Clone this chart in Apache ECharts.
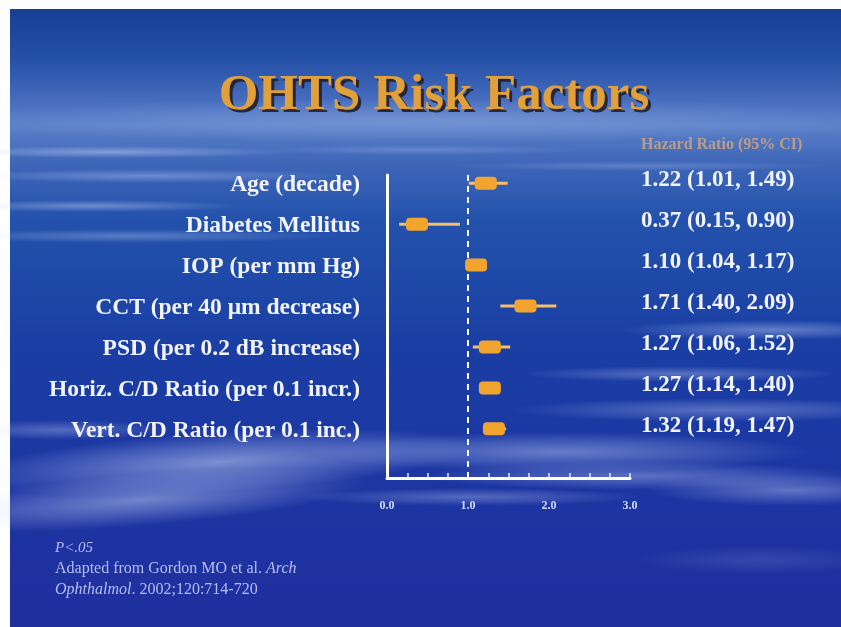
<!DOCTYPE html>
<html>
<head>
<meta charset="utf-8">
<title>OHTS Risk Factors</title>
<script src="https://cdn.jsdelivr.net/npm/echarts@6/dist/echarts.min.js"></script>
<style>
  html, body { margin: 0; padding: 0; background: #ffffff; }
  #chart { width: 841px; height: 627px; }
</style>
</head>
<body>
<div id="chart"></div>
<script>
// Risk factors (rows, top to bottom) with hazard ratios and 95% CI bounds
const factors = [
  'Age (decade)',
  'Diabetes Mellitus',
  'IOP (per mm Hg)',
  'CCT (per 40 \u03bcm decrease)',
  'PSD (per 0.2 dB increase)',
  'Horiz. C/D Ratio (per 0.1 incr.)',
  'Vert. C/D Ratio (per 0.1 inc.)'
];
const hazardRatio = [1.22, 0.37, 1.10, 1.71, 1.27, 1.27, 1.32];
const ciLower     = [1.01, 0.15, 1.04, 1.40, 1.06, 1.14, 1.19];
const ciUpper     = [1.49, 0.90, 1.17, 2.09, 1.52, 1.40, 1.47];
const xTickLabels = ['0.0', '1.0', '2.0', '3.0'];

const SERIF = '"Liberation Serif", "Times New Roman", serif';

const rows = factors.map((name, i) => [hazardRatio[i], ciLower[i], ciUpper[i], i]);

function fmt(v) { return v.toFixed(2); }

const chart = echarts.init(document.getElementById('chart'), null, { renderer: 'canvas' });

// soft elongated cloud wisp: a radial-gradient disc squashed vertically
function wisp(cx, cy, rx, ry, a, rot) {
  return {
    type: 'circle',
    silent: true,
    z: -9,
    x: cx, y: cy,
    scaleY: ry / rx,
    rotation: rot || 0,
    shape: { cx: 0, cy: 0, r: rx },
    style: {
      fill: {
        type: 'radial', x: 0.5, y: 0.5, r: 0.5,
        colorStops: [
          { offset: 0, color: 'rgba(220,230,255,' + a + ')' },
          { offset: 0.5, color: 'rgba(205,218,255,' + (a * 0.55) + ')' },
          { offset: 1, color: 'rgba(200,215,255,0)' }
        ]
      }
    }
  };
}

const background = [
  {
    type: 'rect', silent: true, z: -10,
    shape: { x: 10, y: 9, width: 831, height: 618 },
    style: {
      fill: {
        type: 'linear', x: 0, y: 0, x2: 0, y2: 1,
        colorStops: [
          { offset: 0.00, color: '#163f95' },
          { offset: 0.08, color: '#2450a6' },
          { offset: 0.14, color: '#4269bb' },
          { offset: 0.19, color: '#5a7fc8' },
          { offset: 0.25, color: '#3e66b8' },
          { offset: 0.34, color: '#2352ac' },
          { offset: 0.55, color: '#1a3ea4' },
          { offset: 0.75, color: '#1c36a2' },
          { offset: 1.00, color: '#1f2f9e' }
        ]
      }
    }
  },
  // title band glow
  wisp(430, 120, 520, 22, 0.22),
  // upper-left wisps
  wisp(110, 152, 180, 6, 0.4),
  wisp(150, 176, 200, 7, 0.32),
  wisp(90, 206, 150, 6, 0.38),
  wisp(130, 236, 210, 7, 0.3),
  wisp(640, 166, 190, 5, 0.22),
  wisp(420, 150, 160, 5, 0.2),
  // right side wisps
  wisp(770, 330, 150, 10, 0.38),
  wisp(680, 374, 160, 8, 0.32),
  wisp(720, 410, 210, 12, 0.32),
  // lower cloud band
  wisp(220, 462, 260, 30, 0.5, 0.06),
  wisp(140, 500, 230, 26, 0.45, 0.08),
  wisp(60, 430, 110, 10, 0.3),
  wisp(560, 452, 250, 20, 0.4),
  wisp(640, 476, 220, 14, 0.34),
  wisp(790, 490, 140, 16, 0.36),
  wisp(470, 497, 170, 9, 0.3),
  wisp(760, 560, 130, 14, 0.12)
];

const titleText = 'OHTS Risk Factors';
const INK = '#b6bdf0';
const texts = [
  {
    type: 'text', silent: true, z: 5,
    x: 437, y: 99,
    style: {
      text: titleText, font: 'bold 51px ' + SERIF,
      fill: '#241f28', align: 'center', verticalAlign: 'middle', opacity: 0.9
    }
  },
  {
    type: 'text', silent: true, z: 6,
    x: 434, y: 96,
    style: {
      text: titleText, font: 'bold 51px ' + SERIF,
      align: 'center', verticalAlign: 'middle', fill: '#e2a03a'
    }
  },
  {
    type: 'text', silent: true, z: 6,
    x: 641, y: 145,
    style: {
      text: 'Hazard Ratio (95% CI)', font: 'bold 16px ' + SERIF,
      fill: '#cfa47a', align: 'left', verticalAlign: 'middle', opacity: 0.85
    }
  },
  {
    type: 'text', silent: true, z: 6,
    x: 55, y: 548,
    style: {
      text: 'P<.05', font: 'italic 15px ' + SERIF,
      fill: INK, align: 'left', verticalAlign: 'middle'
    }
  },
  {
    type: 'text', silent: true, z: 6,
    x: 55, y: 569,
    style: {
      text: 'Adapted from Gordon MO et al. {i|Arch}',
      font: '16px ' + SERIF,
      fill: INK, align: 'left', verticalAlign: 'middle',
      rich: { i: { font: 'italic 16px ' + SERIF, fill: INK } }
    }
  },
  {
    type: 'text', silent: true, z: 6,
    x: 55, y: 590,
    style: {
      text: '{i|Ophthalmol}. 2002;120:714-720',
      font: '16px ' + SERIF,
      fill: INK, align: 'left', verticalAlign: 'middle',
      rich: { i: { font: 'italic 16px ' + SERIF, fill: INK } }
    }
  }
];

function renderRow(params, api) {
  const est = api.value(0), lo = api.value(1), hi = api.value(2), row = api.value(3);
  const pEst = api.coord([est, row]);
  const pLo = api.coord([lo, row]);
  const pHi = api.coord([hi, row]);
  const xLeft = api.coord([0, row])[0];
  const xRight = api.coord([3, row])[0];
  const i = params.dataIndex;
  return {
    type: 'group',
    children: [
      {
        type: 'line',
        shape: { x1: pLo[0], y1: pLo[1], x2: pHi[0], y2: pHi[1] },
        style: { stroke: '#f6bd6a', lineWidth: 3 }
      },
      {
        type: 'rect',
        shape: { x: pEst[0] - 11, y: pEst[1] - 6.5, width: 22, height: 13, r: 4 },
        style: { fill: '#f2a52e' }
      },
      {
        type: 'text',
        x: xLeft - 27, y: pEst[1] + 2,
        style: {
          text: factors[i], font: 'bold 23.5px ' + SERIF,
          fill: '#f2f3fb', align: 'right', verticalAlign: 'middle'
        }
      },
      {
        type: 'text',
        x: xRight + 11, y: pEst[1] - 3,
        style: {
          text: fmt(hazardRatio[i]) + ' (' + fmt(ciLower[i]) + ', ' + fmt(ciUpper[i]) + ')',
          font: 'bold 23px ' + SERIF,
          fill: '#f2f3fb', align: 'left', verticalAlign: 'middle'
        }
      }
    ]
  };
}

const option = {
  animation: false,
  backgroundColor: '#ffffff',
  graphic: { elements: background.concat(texts) },
  grid: { left: 387, top: 175, width: 243, height: 303, containLabel: false },
  xAxis: {
    type: 'value',
    min: 0, max: 3, interval: 0.25,
    axisLine: { show: true, onZero: false, lineStyle: { color: '#ffffff', width: 3 } },
    axisTick: { show: true, inside: true, length: 5, lineStyle: { color: '#e8ecff', width: 1.5 } },
    splitLine: { show: false },
    axisLabel: {
      color: '#d3daf4', fontFamily: SERIF, fontWeight: 'bold', fontSize: 12, margin: 22,
      formatter: function (v) {
        const k = Math.round(v);
        return Math.abs(v - k) < 1e-9 ? xTickLabels[k] : '';
      }
    }
  },
  yAxis: {
    type: 'value',
    inverse: true,
    min: -0.2, max: 7.2,
    axisLine: { show: true, onZero: false, lineStyle: { color: '#ffffff', width: 3 } },
    axisTick: { show: false },
    axisLabel: { show: false },
    splitLine: { show: false }
  },
  series: [
    {
      type: 'custom',
      renderItem: renderRow,
      data: rows,
      encode: { x: [0, 1, 2], y: 3 },
      z: 10,
      clip: false,
      markLine: {
        silent: true,
        symbol: ['none', 'none'],
        label: { show: false },
        lineStyle: { color: '#ffffff', type: [6, 5], width: 2 },
        data: [{ xAxis: 1 }],
        z: 3
      }
    }
  ]
};

chart.setOption(option);
</script>
</body>
</html>
